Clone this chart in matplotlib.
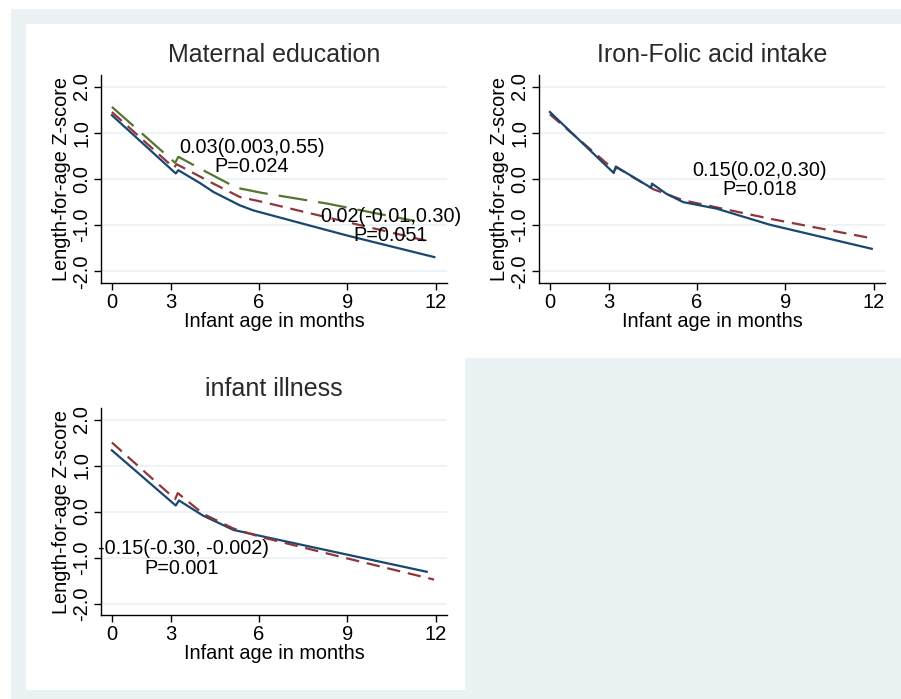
import matplotlib
matplotlib.use('Agg')
import matplotlib.pyplot as plt
from matplotlib.patches import Rectangle

plt.rcParams['font.family'] = ['Liberation Sans', 'DejaVu Sans']

navy = '#1a476f'
maroon = '#90353b'
green = '#55752f'
light = '#eaf2f3'

# x axis positions (tick labelled "0" sits at position 1)
tick_pos = [1, 3, 6, 9, 12]
tick_lab = ['0', '3', '6', '9', '12']
ytick_pos = [-2, -1, 0, 1, 2]
ytick_lab = ['-2.0', '-1.0', '0.0', '1.0', '2.0']

# Maternal education
me_blue_x = [1.0, 3.17, 3.26, 4.0, 4.45, 5.35, 5.81, 7.39, 8.98, 11.96]
me_blue_y = [1.38, 0.12, 0.19, -0.09, -0.28, -0.57, -0.68, -0.95, -1.22, -1.69]
me_red_x = [1.0, 3.11, 3.2, 4.45, 5.35, 6.15, 7.39, 11.64]
me_red_y = [1.45, 0.24, 0.32, -0.10, -0.39, -0.50, -0.69, -1.33]
me_green_x = [1.0, 3.15, 3.26, 4.22, 5.24, 6.1, 8.3, 11.3]
me_green_y = [1.56, 0.35, 0.48, 0.15, -0.19, -0.30, -0.53, -0.91]

# Iron-Folic acid intake
ifa_blue_x = [1.0, 3.17, 3.24, 4.44, 4.47, 4.96, 5.53, 6.66, 8.48, 11.94]
ifa_blue_y = [1.45, 0.13, 0.27, -0.19, -0.10, -0.32, -0.50, -0.64, -0.99, -1.51]
ifa_red_x = [1.0, 3.2, 3.27, 4.51, 5.53, 8.48, 12.0]
ifa_red_y = [1.40, 0.19, 0.25, -0.22, -0.46, -0.86, -1.29]

# infant illness
ill_blue_x = [1.0, 3.17, 3.28, 4.1, 5.13, 6.04, 8.87, 11.7]
ill_blue_y = [1.33, 0.13, 0.24, -0.09, -0.40, -0.53, -0.92, -1.31]
ill_red_x = [1.0, 3.15, 3.24, 4.1, 5.13, 6.04, 8.87, 11.95]
ill_red_y = [1.50, 0.27, 0.40, -0.05, -0.37, -0.55, -1.0, -1.48]

W, H = 901, 699
fig = plt.figure(figsize=(9.01, 6.99), dpi=100, facecolor='white')


def fx(px):
    return px / W


def fy(py):
    return 1 - py / H


# background regions
fig.patches.append(Rectangle((fx(11), 0), 1 - fx(11), fy(9), transform=fig.transFigure,
                             facecolor=light, edgecolor='none', zorder=-3))
fig.patches.append(Rectangle((fx(26), fy(357.7)), 1 - fx(26), fy(24) - fy(357.7),
                             transform=fig.transFigure, facecolor='white', edgecolor='none', zorder=-2))
fig.patches.append(Rectangle((fx(26), fy(690)), fx(465) - fx(26), fy(357.7) - fy(690),
                             transform=fig.transFigure, facecolor='white', edgecolor='none', zorder=-2))


def make_ax(left, top, bottom, title):
    ax = fig.add_axes([fx(left), fy(bottom), fx(346), fy(top) - fy(bottom)])
    ax.set_facecolor('none')
    ax.set_xlim(0.63, 12.39)
    ax.set_ylim(-2.25, 2.25)
    ax.set_xticks(tick_pos)
    ax.set_xticklabels(tick_lab, fontsize=14.5)
    ax.set_yticks(ytick_pos)
    ax.set_yticklabels(ytick_lab, fontsize=14.5, rotation=90, va='center')
    for y in ytick_pos:
        ax.axhline(y, color=light, lw=1.2, zorder=0)
    ax.spines['top'].set_visible(False)
    ax.spines['right'].set_visible(False)
    ax.spines['left'].set_linewidth(1.0)
    ax.spines['bottom'].set_linewidth(1.0)
    ax.tick_params(direction='out', length=5, width=1.0, pad=2)
    ax.set_xlabel('Infant age in months', fontsize=14.3, labelpad=0)
    ax.set_ylabel('Length-for-age Z-score', fontsize=14.3, labelpad=1)
    ax.set_title(title, fontsize=18, color='#2a2a2a', pad=9)
    return ax


ax1 = make_ax(101, 75, 283, 'Maternal education')
ax1.plot(me_blue_x, me_blue_y, color=navy, lw=1.6)
ax1.plot(me_red_x, me_red_y, color=maroon, lw=1.6, dashes=(6, 3.5))
ax1.plot(me_green_x, me_green_y, color=green, lw=1.6, dashes=(13, 5))
ax1.text(5.75, 0.69, '0.03(0.003,0.55)', fontsize=14.3, ha='center', va='center')
ax1.text(5.75, 0.28, 'P=0.024', fontsize=14.3, ha='center', va='center')
ax1.text(10.49, -0.81, '0.02(-0.01,0.30)', fontsize=14.3, ha='center', va='center', clip_on=False)
ax1.text(10.49, -1.22, 'P=0.051', fontsize=14.3, ha='center', va='center')

ax2 = make_ax(539, 75, 283, 'Iron-Folic acid intake')
ax2.plot(ifa_red_x, ifa_red_y, color=maroon, lw=1.6, dashes=(6, 3.5))
ax2.plot(ifa_blue_x, ifa_blue_y, color=navy, lw=1.6)
ax2.text(8.14, 0.19, '0.15(0.02,0.30)', fontsize=14.3, ha='center', va='center')
ax2.text(8.14, -0.22, 'P=0.018', fontsize=14.3, ha='center', va='center')

ax3 = make_ax(101, 408, 615, 'infant illness')
ax3.plot(ill_blue_x, ill_blue_y, color=navy, lw=1.6)
ax3.plot(ill_red_x, ill_red_y, color=maroon, lw=1.6, dashes=(6, 3.5))
ax3.text(3.45, -0.81, '-0.15(-0.30, -0.002)', fontsize=14.3, ha='center', va='center', clip_on=False)
ax3.text(3.37, -1.23, 'P=0.001', fontsize=14.3, ha='center', va='center')

fig.savefig('out.png', dpi=100, facecolor=fig.get_facecolor())
